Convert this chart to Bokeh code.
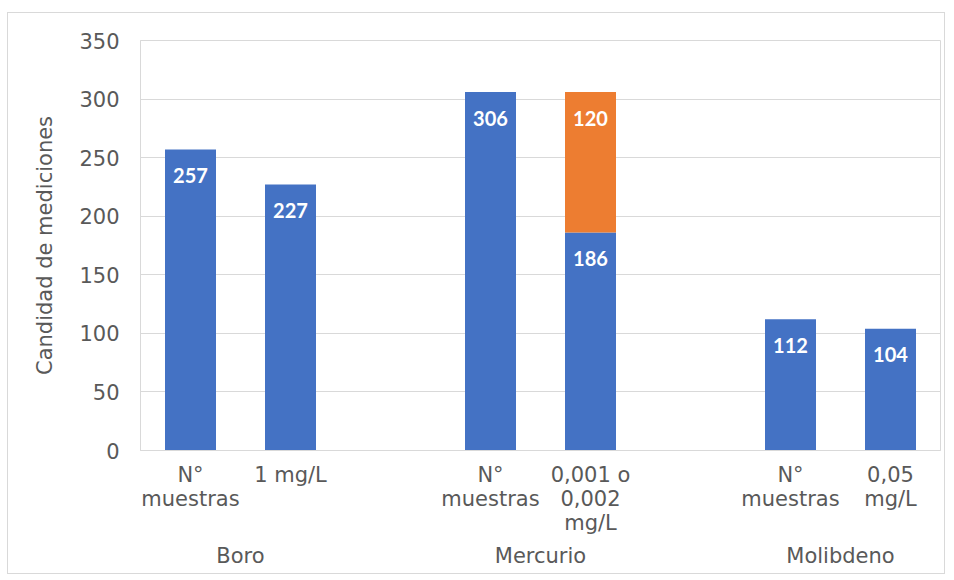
from bokeh.plotting import figure
from bokeh.models import FactorRange, ColumnDataSource, Range1d, FixedTicker
from bokeh.embed import file_html
from bokeh.resources import INLINE
from bokeh.core.properties import value

# ---- data ----
groups = ["Boro", "Mercurio", "Molibdeno"]
subcats = [
    ["N°\nmuestras", "1 mg/L"],
    ["N°\nmuestras", "0,001 o\n0,002\nmg/L"],
    ["N°\nmuestras", "0,05\nmg/L"],
]
blue_vals = [[257, 227], [306, 186], [112, 104]]
orange_vals = [[0, 0], [0, 120], [0, 0]]
y_ticks = [0, 50, 100, 150, 200, 250, 300, 350]
y_title = "Candidad de mediciones"

BLUE = "#4472C4"
ORANGE = "#ED7D31"
GRAY_TXT = "#595959"
GRID = "#D9D9D9"
FONT = "DejaVu Sans"

factors, b, o = [], [], []
for g, subs, bv, ov in zip(groups, subcats, blue_vals, orange_vals):
    for s, bb, oo in zip(subs, bv, ov):
        factors.append((g, s))
        b.append(bb)
        o.append(oo)

blue_src = ColumnDataSource(dict(x=factors, top=b, label=[str(v) for v in b]))
ox = [f for f, v in zip(factors, o) if v > 0]
obot = [bb for bb, v in zip(b, o) if v > 0]
otop = [bb + v for bb, v in zip(b, o) if v > 0]
orange_src = ColumnDataSource(dict(x=ox, bottom=obot, top=otop,
                                   label=[str(v) for v in o if v > 0]))

p = figure(
    width=938, height=562,
    x_range=FactorRange(*factors, factor_padding=0, group_padding=1, range_padding=0),
    y_range=Range1d(0, 350),
    output_backend="svg", toolbar_location=None,
    min_border_left=132, min_border_right=6, min_border_top=27, min_border_bottom=125,
    background_fill_color="white", border_fill_color="white",
)
p.styles = {"border": "1px solid #D9D9D9", "margin-left": "7px", "margin-top": "12px"}
p.outline_line_color = GRID

p.vbar(x="x", top="top", bottom=0, width=0.51, source=blue_src,
       fill_color=BLUE, line_color=None)
p.vbar(x="x", top="top", bottom="bottom", width=0.51, source=orange_src,
       fill_color=ORANGE, line_color=None)

for src in (blue_src, orange_src):
    p.text(x="x", y="top", text="label", source=src, text_color="white",
           text_font=value("Lato"), text_font_style="bold", text_font_size="20px",
           text_align="center", text_baseline="middle", y_offset=26)

# axes
p.yaxis.ticker = FixedTicker(ticks=y_ticks)
p.yaxis.axis_label = y_title
p.yaxis.axis_label_text_font = FONT
p.yaxis.axis_label_text_font_size = "21px"
p.yaxis.axis_label_text_font_style = "normal"
p.yaxis.axis_label_text_color = GRAY_TXT
p.yaxis.axis_label_standoff = 19
p.yaxis.major_label_text_font = FONT
p.yaxis.major_label_text_font_size = "21px"
p.yaxis.major_label_text_color = GRAY_TXT
p.yaxis.major_label_standoff = 15
p.yaxis.axis_line_color = GRID
p.yaxis.major_tick_line_color = None
p.yaxis.minor_tick_line_color = None

p.xaxis.major_label_text_font = FONT
p.xaxis.major_label_text_font_size = "21px"
p.xaxis.major_label_text_line_height = 1.0
p.xaxis.major_label_text_color = GRAY_TXT
p.xaxis.major_label_standoff = 6
p.xaxis.group_text_font = FONT
p.xaxis.group_text_font_size = "21px"
p.xaxis.group_text_font_style = "normal"
p.xaxis.group_text_color = GRAY_TXT
p.xaxis.separator_line_color = None
p.xaxis.axis_line_color = GRID
p.xaxis.major_tick_line_color = None
p.xaxis.minor_tick_line_color = None

p.xgrid.grid_line_color = None
p.ygrid.grid_line_color = GRID

open("out.html", "w").write(file_html(p, INLINE))
